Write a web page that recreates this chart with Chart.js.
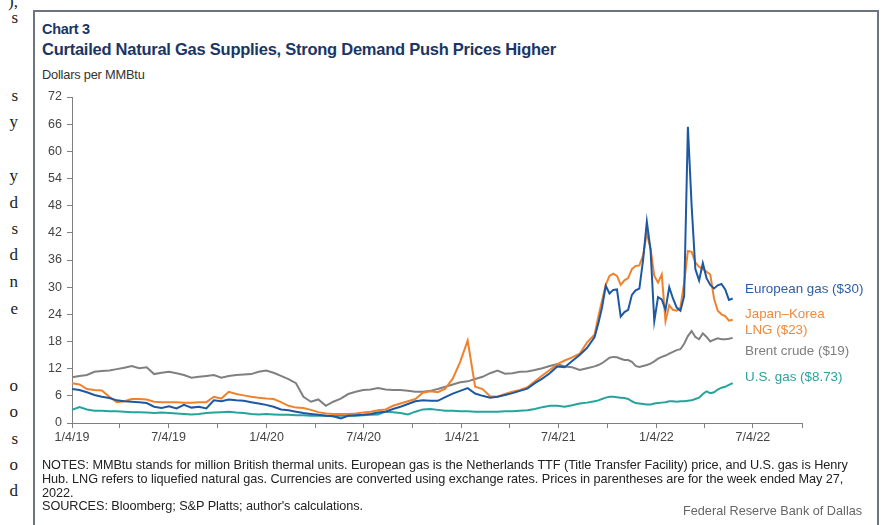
<!DOCTYPE html>
<html>
<head>
<meta charset="utf-8">
<script src="https://cdn.jsdelivr.net/npm/chart.js@4/dist/chart.umd.min.js"></script>
<style>
  html,body{margin:0;padding:0;background:#fff;}
  body{width:892px;height:525px;position:relative;overflow:hidden;font-family:"Liberation Sans",Arial,sans-serif;}
  #frame{position:absolute;left:33px;top:10px;width:846px;height:540px;border:2px solid #6c7480;box-sizing:border-box;}
  #c{position:absolute;left:0;top:0;}
  .t{position:absolute;white-space:nowrap;}
  .frag{position:absolute;font-family:"Liberation Serif","Times New Roman",serif;font-size:17px;color:#222;width:20px;text-align:right;left:-2px;}
</style>
</head>
<body>
<div class="frag" style="top:-8px">),</div>
<div class="frag" style="top:8px">s</div>
<div class="frag" style="top:86px">s</div>
<div class="frag" style="top:112px">y</div>
<div class="frag" style="top:166px">y</div>
<div class="frag" style="top:193px">d</div>
<div class="frag" style="top:219px">s</div>
<div class="frag" style="top:245px">d</div>
<div class="frag" style="top:272px">n</div>
<div class="frag" style="top:299px">e</div>
<div class="frag" style="top:376px">o</div>
<div class="frag" style="top:402px">o</div>
<div class="frag" style="top:429px">s</div>
<div class="frag" style="top:455px">o</div>
<div class="frag" style="top:481px">d</div>

<div id="frame"></div>
<div class="t" style="left:42px;top:21px;font-size:14.5px;font-weight:bold;color:#1b3665;letter-spacing:-0.3px;">Chart 3</div>
<div class="t" style="left:42px;top:40px;font-size:16.5px;font-weight:bold;color:#1b3665;letter-spacing:-0.25px;">Curtailed Natural Gas Supplies, Strong Demand Push Prices Higher</div>
<div class="t" style="left:42px;top:67px;font-size:12.8px;color:#333;letter-spacing:-0.2px;">Dollars per MMBtu</div>

<canvas id="c" width="892" height="525"></canvas>

<div class="t" style="left:745px;top:281px;font-size:13.4px;color:#2a5fa5;">European gas ($30)</div>
<div class="t" style="left:745px;top:306px;font-size:13.4px;color:#f08a3c;line-height:15.5px;">Japan–Korea<br>LNG ($23)</div>
<div class="t" style="left:745px;top:343px;font-size:13.4px;color:#7f7f7f;">Brent crude ($19)</div>
<div class="t" style="left:745px;top:369px;font-size:13.4px;color:#2aa39d;">U.S. gas ($8.73)</div>

<div class="t" style="left:42px;top:459px;font-size:12.7px;color:#222;line-height:13.8px;letter-spacing:-0.05px;">NOTES: MMBtu stands for million British thermal units. European gas is the Netherlands TTF (Title Transfer Facility) price, and U.S. gas is Henry<br>Hub. LNG refers to liquefied natural gas. Currencies are converted using exchange rates. Prices in parentheses are for the week ended May 27,<br>2022.<br>SOURCES: Bloomberg; S&amp;P Platts; author's calculations.</div>
<div class="t" style="left:683px;top:504px;font-size:12.7px;color:#666;">Federal Reserve Bank of Dallas</div>

<script>
const dates = [
 "2019-01-04","2019-01-18","2019-02-01","2019-02-15","2019-03-01","2019-03-15","2019-03-29","2019-04-12","2019-04-26","2019-05-10","2019-05-24","2019-06-07","2019-06-21","2019-07-05","2019-07-19","2019-08-02","2019-08-16","2019-08-30","2019-09-13","2019-09-27","2019-10-11","2019-10-25","2019-11-08","2019-11-22","2019-12-06","2019-12-20",
 "2020-01-03","2020-01-17","2020-01-31","2020-02-14","2020-02-28","2020-03-13","2020-03-27","2020-04-10","2020-04-24","2020-05-08","2020-05-22","2020-06-05","2020-06-19","2020-07-03","2020-07-17","2020-07-31","2020-08-14","2020-08-28","2020-09-11","2020-09-25","2020-10-09","2020-10-23","2020-11-06","2020-11-20","2020-12-04","2020-12-18",
 "2021-01-01","2021-01-15","2021-01-29","2021-02-12","2021-02-26","2021-03-12","2021-03-26","2021-04-09","2021-04-23","2021-05-07","2021-05-21","2021-06-04","2021-06-18","2021-07-02","2021-07-16","2021-07-30","2021-08-13","2021-08-27",
 "2021-09-10","2021-09-17","2021-09-24","2021-10-01","2021-10-08","2021-10-15","2021-10-22","2021-10-29","2021-11-05","2021-11-12","2021-11-19","2021-11-26","2021-12-03","2021-12-10","2021-12-17","2021-12-24","2021-12-31",
 "2022-01-07","2022-01-14","2022-01-21","2022-01-28","2022-02-04","2022-02-11","2022-02-18","2022-02-25","2022-03-04","2022-03-11","2022-03-18","2022-03-25","2022-04-01","2022-04-08","2022-04-15","2022-04-22","2022-04-29","2022-05-06","2022-05-13","2022-05-20","2022-05-27"
];

const europeanGas = [
 7.5,7.3,6.8,6.2,5.8,5.5,5.0,4.8,4.7,4.6,4.4,3.6,3.3,3.7,3.2,4.0,3.4,3.6,3.2,5.0,4.8,5.2,5.0,4.9,4.6,4.3,
 4.0,3.6,3.0,2.8,2.5,2.2,2.0,1.8,1.6,1.5,1.0,1.6,1.7,1.8,2.0,2.3,2.5,3.1,3.6,4.2,4.8,5.0,4.9,4.9,5.7,6.5,
 7.1,7.7,6.5,6.0,5.6,5.8,6.2,6.6,7.1,7.6,8.8,9.8,11.0,12.5,12.3,13.7,15.0,16.6,
 19.0,22.0,25.5,30.3,28.6,29.4,29.5,23.5,24.5,25.0,28.3,29.3,29.7,36.0,44.5,38.2,22.5,
 27.8,27.3,25.0,30.0,27.5,25.5,24.8,28.0,65.4,48.0,34.0,31.5,35.3,32.0,30.5,29.7,30.4,30.7,29.5,27.2,27.5
];

const japanKoreaLNG = [
 8.8,8.5,7.5,7.3,7.2,5.8,4.6,4.8,5.3,5.3,5.2,4.7,4.6,4.6,4.6,4.5,4.5,4.6,4.6,5.8,5.4,6.9,6.4,6.1,5.8,5.6,
 5.4,5.3,4.6,3.8,3.4,3.3,2.9,2.4,2.1,2.0,2.0,2.0,2.1,2.3,2.5,2.8,3.0,3.8,4.3,4.8,5.3,6.7,7.0,6.8,7.6,9.8,
 13.5,18.2,8.0,7.5,5.9,5.8,6.4,6.9,7.3,7.9,9.2,10.5,11.7,13.0,13.8,14.5,15.3,17.8,
 19.5,23.5,27.0,30.5,32.5,33.0,32.5,30.5,31.5,32.0,34.0,34.7,34.8,37.0,41.9,38.5,32.5,
 31.0,32.8,22.5,26.0,25.0,24.8,25.5,31.0,38.0,37.8,35.5,34.5,34.0,33.4,32.8,27.5,24.8,24.0,23.6,22.6,22.8
];

const brentCrude = [
 10.1,10.4,10.6,11.3,11.5,11.6,11.9,12.2,12.6,12.1,12.3,10.8,11.1,11.3,11.0,10.6,10.0,10.2,10.4,10.6,10.0,10.4,10.6,10.7,10.8,11.3,
 11.6,11.1,10.4,9.7,8.8,5.8,4.7,5.2,3.8,4.7,5.4,6.4,6.9,7.3,7.4,7.7,7.4,7.3,7.3,7.1,6.9,6.9,7.1,7.5,8.0,8.5,
 9.0,9.2,9.7,10.2,11.0,11.6,10.9,11.0,11.3,11.4,11.7,12.1,12.6,13.0,12.5,12.3,11.7,12.1,
 12.5,12.8,13.2,13.8,14.4,14.6,14.5,14.2,13.9,13.9,13.5,12.6,12.4,12.6,12.8,13.1,13.6,
 14.2,14.6,14.9,15.3,15.7,16.1,16.3,17.5,19.2,20.3,19.0,18.5,19.8,19.0,18.0,18.4,18.7,18.5,18.5,18.6,18.8
];

const usGas = [
 2.9,3.5,3.0,2.7,2.7,2.6,2.6,2.5,2.4,2.4,2.3,2.2,2.3,2.2,2.1,2.0,1.9,2.0,2.2,2.3,2.4,2.5,2.3,2.2,2.0,1.9,
 2.0,1.9,1.8,1.8,1.7,1.7,1.6,1.6,1.6,1.5,1.6,1.6,1.6,1.7,1.8,1.9,2.5,2.4,2.2,1.9,2.5,3.0,3.1,2.9,2.7,2.7,
 2.6,2.6,2.5,2.5,2.5,2.5,2.6,2.6,2.7,2.8,3.1,3.5,3.8,3.8,3.6,3.9,4.3,4.5,
 4.8,5.0,5.3,5.6,5.8,5.8,5.7,5.6,5.5,5.3,4.8,4.4,4.3,4.2,4.1,4.1,4.3,
 4.4,4.5,4.6,4.8,4.8,4.7,4.8,4.8,4.9,5.0,5.3,5.6,6.4,7.0,6.6,6.8,7.4,7.8,8.0,8.4,8.8
];

const xTickDates = ["2019-01-04","2019-04-04","2019-07-04","2019-10-04","2020-01-04","2020-04-04","2020-07-04","2020-10-04","2021-01-04","2021-04-04","2021-07-04","2021-10-04","2022-01-04","2022-04-04","2022-07-04","2022-10-04"];
const xTickLabels = ["1/4/19","","7/4/19","","1/4/20","","7/4/20","","1/4/21","","7/4/21","","1/4/22","","7/4/22",""];
const yMin = 0, yMax = 72, yStep = 6;

const t = s => Date.parse(s + "T00:00:00Z");
const series = (vals) => vals.map((v, i) => ({x: t(dates[i]), y: v}));

const axisColor = '#808080';
const tickFont = {family: '"Liberation Sans", Arial, sans-serif', size: 12.5};
new Chart(document.getElementById('c'), {
  type: 'line',
  data: {
    datasets: [
      {label: 'European gas', data: series(europeanGas), borderColor: '#1d58a3', borderWidth: 2},
      {label: 'Japan–Korea LNG', data: series(japanKoreaLNG), borderColor: '#f0822d', borderWidth: 2},
      {label: 'Brent crude', data: series(brentCrude), borderColor: '#808080', borderWidth: 2},
      {label: 'U.S. gas', data: series(usGas), borderColor: '#25a39c', borderWidth: 2}
    ]
  },
  options: {
    responsive: false,
    animation: false,
    devicePixelRatio: 1,
    elements: {point: {radius: 0}, line: {tension: 0}},
    layout: {padding: {left: 32, top: 97, right: 90, bottom: 72}},
    plugins: {legend: {display: false}, tooltip: {enabled: false}},
    scales: {
      x: {
        type: 'linear',
        min: t(xTickDates[0]),
        max: t(xTickDates[xTickDates.length - 1]),
        afterBuildTicks: (s) => { s.ticks = xTickDates.map(d => ({value: t(d)})); },
        afterFit: (s) => { s.height = 30; },
        ticks: {
          autoSkip: false, maxRotation: 0, padding: 2,
          color: '#444', font: tickFont,
          callback: (v, i) => xTickLabels[i]
        },
        grid: {display: true, drawOnChartArea: false, drawTicks: true, tickLength: 5, color: axisColor},
        border: {display: true, color: axisColor, width: 1}
      },
      y: {
        min: yMin, max: yMax,
        afterFit: (s) => { s.width = 40; },
        ticks: {
          stepSize: yStep, padding: 5,
          color: '#444', font: tickFont
        },
        grid: {display: true, drawOnChartArea: false, drawTicks: true, tickLength: 5, color: axisColor},
        border: {display: true, color: axisColor, width: 1}
      }
    }
  }
});
</script>
</body>
</html>
